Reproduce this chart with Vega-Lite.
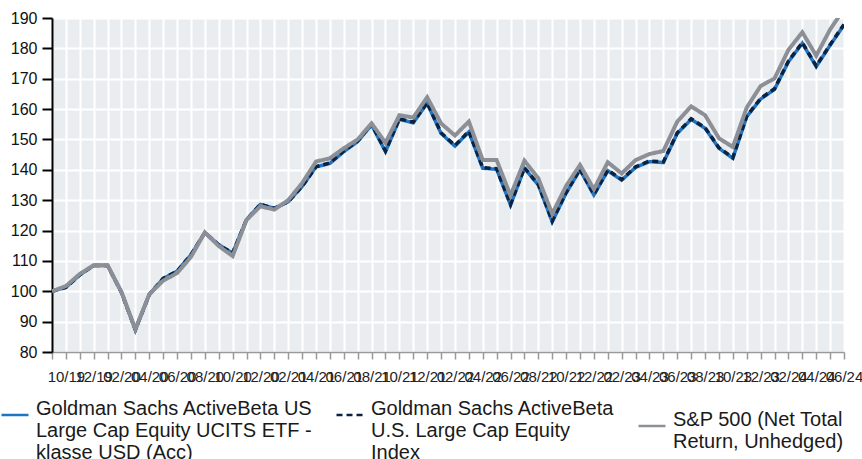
{
  "$schema": "https://vega.github.io/schema/vega-lite/v6.json",
  "width": 792,
  "height": 334,
  "autosize": {"type": "none"},
  "padding": {"left": 52, "top": 18, "right": 18, "bottom": 107},
  "background": "white",
  "config": {
    "font": "Liberation Sans",
    "view": {"fill": "#eaedf0", "stroke": null},
    "axis": {"gridColor": "white", "gridWidth": 2, "gridOpacity": 1},
    "legend": {
      "title": null,
      "orient": "none",
      "legendX": -52,
      "legendY": 382,
      "direction": "horizontal",
      "symbolType": "stroke",
      "symbolSize": 729,
      "symbolStrokeWidth": 2.5,
      "labelFontSize": 20,
      "labelColor": "#1a1a1a",
      "labelOffset": 6,
      "labelLimit": 400,
      "labelBaseline": "alphabetic",
      "columnPadding": 18
    }
  },
  "data": {"values": [
    {"m":"2019-09","ETF":100,"Index":100,"SP":100},
    {"m":"2019-10","ETF":101.3,"Index":101.3,"SP":101.7},
    {"m":"2019-11","ETF":105.4,"Index":105.4,"SP":105.7},
    {"m":"2019-12","ETF":108.5,"Index":108.5,"SP":108.6},
    {"m":"2020-01","ETF":108.5,"Index":108.5,"SP":108.6},
    {"m":"2020-02","ETF":99.6,"Index":99.6,"SP":99.8},
    {"m":"2020-03","ETF":87.3,"Index":87.3,"SP":87.5},
    {"m":"2020-04","ETF":98.9,"Index":98.9,"SP":99.0},
    {"m":"2020-05","ETF":104.2,"Index":104.2,"SP":103.5},
    {"m":"2020-06","ETF":106.6,"Index":106.6,"SP":106.0},
    {"m":"2020-07","ETF":112.0,"Index":112.0,"SP":111.3},
    {"m":"2020-08","ETF":119.3,"Index":119.3,"SP":119.4},
    {"m":"2020-09","ETF":115.3,"Index":115.3,"SP":114.9},
    {"m":"2020-10","ETF":112.6,"Index":112.6,"SP":111.6},
    {"m":"2020-11","ETF":123.6,"Index":123.6,"SP":123.5},
    {"m":"2020-12","ETF":128.6,"Index":128.6,"SP":128.0},
    {"m":"2021-01","ETF":127.3,"Index":127.3,"SP":126.9},
    {"m":"2021-02","ETF":129.5,"Index":129.5,"SP":130.0},
    {"m":"2021-03","ETF":134.5,"Index":134.5,"SP":135.6},
    {"m":"2021-04","ETF":141.0,"Index":141.0,"SP":142.7},
    {"m":"2021-05","ETF":142.1,"Index":142.3,"SP":143.8},
    {"m":"2021-06","ETF":146.0,"Index":146.2,"SP":147.1},
    {"m":"2021-07","ETF":149.3,"Index":149.5,"SP":150.0},
    {"m":"2021-08","ETF":154.8,"Index":155.0,"SP":155.3},
    {"m":"2021-09","ETF":146.0,"Index":146.2,"SP":148.9},
    {"m":"2021-10","ETF":156.6,"Index":156.8,"SP":158.0},
    {"m":"2021-11","ETF":155.5,"Index":155.7,"SP":157.2},
    {"m":"2021-12","ETF":161.9,"Index":162.1,"SP":163.9},
    {"m":"2022-01","ETF":152.0,"Index":152.2,"SP":155.3},
    {"m":"2022-02","ETF":147.8,"Index":148.0,"SP":151.3},
    {"m":"2022-03","ETF":152.5,"Index":152.7,"SP":155.9},
    {"m":"2022-04","ETF":140.5,"Index":140.7,"SP":143.2},
    {"m":"2022-05","ETF":140.2,"Index":140.4,"SP":143.2},
    {"m":"2022-06","ETF":128.4,"Index":128.6,"SP":131.5},
    {"m":"2022-07","ETF":140.5,"Index":140.7,"SP":143.0},
    {"m":"2022-08","ETF":135.0,"Index":135.2,"SP":137.2},
    {"m":"2022-09","ETF":122.9,"Index":123.1,"SP":125.5},
    {"m":"2022-10","ETF":132.3,"Index":132.5,"SP":134.7},
    {"m":"2022-11","ETF":140.0,"Index":140.2,"SP":141.6},
    {"m":"2022-12","ETF":131.7,"Index":131.9,"SP":133.6},
    {"m":"2023-01","ETF":139.7,"Index":139.9,"SP":142.5},
    {"m":"2023-02","ETF":136.6,"Index":136.8,"SP":138.8},
    {"m":"2023-03","ETF":140.8,"Index":141.0,"SP":143.2},
    {"m":"2023-04","ETF":142.7,"Index":142.9,"SP":145.2},
    {"m":"2023-05","ETF":142.4,"Index":142.6,"SP":146.2},
    {"m":"2023-06","ETF":152.0,"Index":152.2,"SP":155.9},
    {"m":"2023-07","ETF":156.6,"Index":156.8,"SP":160.9},
    {"m":"2023-08","ETF":153.7,"Index":153.9,"SP":158.0},
    {"m":"2023-09","ETF":147.1,"Index":147.3,"SP":150.4},
    {"m":"2023-10","ETF":143.8,"Index":144.0,"SP":147.5},
    {"m":"2023-11","ETF":157.5,"Index":157.7,"SP":160.5},
    {"m":"2023-12","ETF":163.3,"Index":163.5,"SP":167.6},
    {"m":"2024-01","ETF":166.5,"Index":166.7,"SP":170.1},
    {"m":"2024-02","ETF":175.6,"Index":175.8,"SP":179.5},
    {"m":"2024-03","ETF":181.7,"Index":181.9,"SP":185.3},
    {"m":"2024-04","ETF":174.0,"Index":174.2,"SP":177.6},
    {"m":"2024-05","ETF":181.0,"Index":181.2,"SP":186.2},
    {"m":"2024-06","ETF":187.7,"Index":187.9,"SP":193.0}
  ]},
  "transform": [{"fold": ["ETF", "Index", "SP"], "as": ["series", "value"]}],
  "encoding": {
    "x": {
      "field": "m", "type": "ordinal",
      "scale": {"type": "point", "padding": 0},
      "axis": {
        "title": null,
        "labelAngle": 0,
        "labelOverlap": false,
        "labelFontSize": 15,
        "labelColor": "#222222",
        "labelPadding": 10,
        "labelExpr": "toNumber(slice(datum.label,5,7)) % 2 == 0 ? slice(datum.label,5,7) + '/' + slice(datum.label,2,4) : ''",
        "domainColor": "#999999",
        "domainWidth": 1.5,
        "tickColor": "#999999",
        "tickWidth": 1.5,
        "tickSize": 7,
        "grid": true
      }
    },
    "y": {
      "field": "value", "type": "quantitative",
      "scale": {"domain": [80, 190], "nice": false, "zero": false},
      "axis": {
        "title": null,
        "values": [80, 90, 100, 110, 120, 130, 140, 150, 160, 170, 180, 190],
        "labelFontSize": 16,
        "labelColor": "#111111",
        "labelPadding": 5,
        "domainColor": "black",
        "domainWidth": 2,
        "tickColor": "black",
        "tickWidth": 2,
        "tickSize": 10,
        "grid": true
      }
    },
    "color": {
      "field": "series", "type": "nominal",
      "scale": {"domain": ["ETF", "Index", "SP"], "range": ["#1f74c4", "#0b2341", "#8d8f97"]},
      "legend": {
        "labelExpr": "datum.label == 'ETF' ? ['Goldman Sachs ActiveBeta US', 'Large Cap Equity UCITS ETF -', 'klasse USD (Acc)'] : datum.label == 'Index' ? ['Goldman Sachs ActiveBeta', 'U.S. Large Cap Equity', 'Index'] : ['S&P 500 (Net Total', 'Return, Unhedged)']"
      }
    },
    "strokeDash": {
      "field": "series", "type": "nominal",
      "scale": {"domain": ["ETF", "Index", "SP"], "range": [[1, 0], [6, 4], [1, 0]]},
      "legend": {
        "labelExpr": "datum.label == 'ETF' ? ['Goldman Sachs ActiveBeta US', 'Large Cap Equity UCITS ETF -', 'klasse USD (Acc)'] : datum.label == 'Index' ? ['Goldman Sachs ActiveBeta', 'U.S. Large Cap Equity', 'Index'] : ['S&P 500 (Net Total', 'Return, Unhedged)']"
      }
    }
  },
  "layer": [
    {"transform": [{"filter": "datum.series == 'ETF'"}], "mark": {"type": "line", "strokeWidth": 3.5, "clip": true}},
    {"transform": [{"filter": "datum.series == 'Index'"}], "mark": {"type": "line", "strokeWidth": 3.5, "clip": true}},
    {"transform": [{"filter": "datum.series == 'SP'"}], "mark": {"type": "line", "strokeWidth": 4, "clip": true}}
  ]
}
